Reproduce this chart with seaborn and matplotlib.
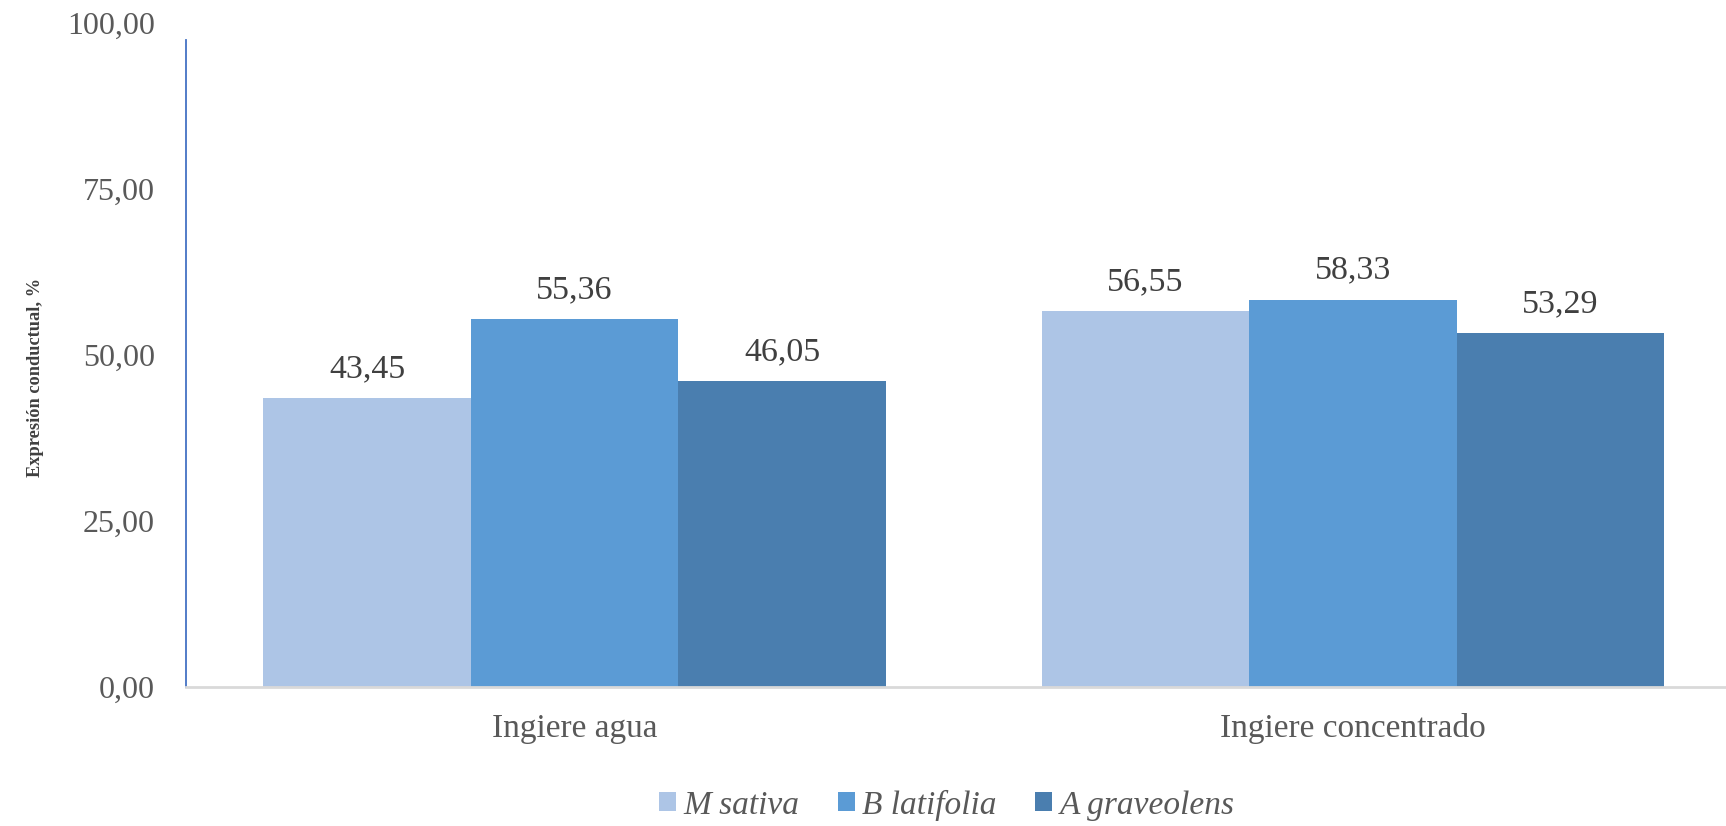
import matplotlib
matplotlib.use("Agg")
import matplotlib.pyplot as plt
import seaborn as sns
import pandas as pd
from matplotlib.patches import Patch

categories = ["Ingiere agua", "Ingiere concentrado"]
series_names = ["M sativa", "B latifolia", "A graveolens"]
m_sativa = [43.45, 56.55]
b_latifolia = [55.36, 58.33]
a_graveolens = [46.05, 53.29]
y_ticks = [0, 25, 50, 75, 100]

colors = ["#adc5e6", "#5b9bd5", "#4a7eaf"]

rows = []
for name, vals in zip(series_names, [m_sativa, b_latifolia, a_graveolens]):
    for c, v in zip(categories, vals):
        rows.append({"cat": c, "serie": name, "val": v})
df = pd.DataFrame(rows)

sns.set_theme(style="white")
plt.rcParams["font.family"] = ["Liberation Serif", "DejaVu Serif"]

fig = plt.figure(figsize=(17.26, 8.26), dpi=100)
ax = fig.add_axes([0.1075, 0.1683, 0.9018, 0.8039])

sns.barplot(data=df, x="cat", y="val", hue="serie", order=categories,
            hue_order=series_names, palette=colors, width=0.8, gap=0,
            errorbar=None, ax=ax, legend=False, saturation=1, linewidth=0)

ax.set_xlim(-0.5, 1.5)
ax.set_ylim(0, 100)
ax.set_yticks(y_ticks)
ax.set_yticklabels([f"{t:.2f}".replace(".", ",") for t in y_ticks],
                   fontsize=23, color="#595959")
ax.set_xticks(range(len(categories)))
ax.set_xticklabels(categories, fontsize=24, color="#595959")
ax.tick_params(axis="both", length=0)
ax.tick_params(axis="y", pad=22)
ax.tick_params(axis="x", pad=19)

ax.set_xlabel("")
ax.set_ylabel("Expresión conductual, %", fontsize=13.2, fontweight="bold",
              color="#404040")
ax.yaxis.set_label_coords(-0.091, 0.466)

for s in ["top", "right"]:
    ax.spines[s].set_visible(False)
ax.spines["bottom"].set_color("#d9d9d9")
ax.spines["bottom"].set_linewidth(2)
ax.spines["left"].set_color("#4472c4")
ax.spines["left"].set_linewidth(1.3)
ax.spines["left"].set_bounds(0, 97.4)
ax.grid(False)

for cont in ax.containers:
    for bar in cont:
        h = bar.get_height()
        ax.annotate(f"{h:.2f}".replace(".", ","),
                    (bar.get_x() + bar.get_width() / 2, h),
                    xytext=(0, 21), textcoords="offset points",
                    ha="center", va="center", fontsize=24.5, color="#404040")

handles = [Patch(facecolor=c, edgecolor="none") for c in colors]
fig.legend(handles, series_names, loc="center",
           bbox_to_anchor=(947 / 1726, 1 - 805 / 826), ncol=3, frameon=False,
           prop={"family": "Liberation Serif", "style": "italic", "size": 24},
           labelcolor="#595959", handlelength=0.5, handleheight=0.5,
           handletextpad=0.23, columnspacing=1.15)

fig.savefig("out.png", dpi=100)
